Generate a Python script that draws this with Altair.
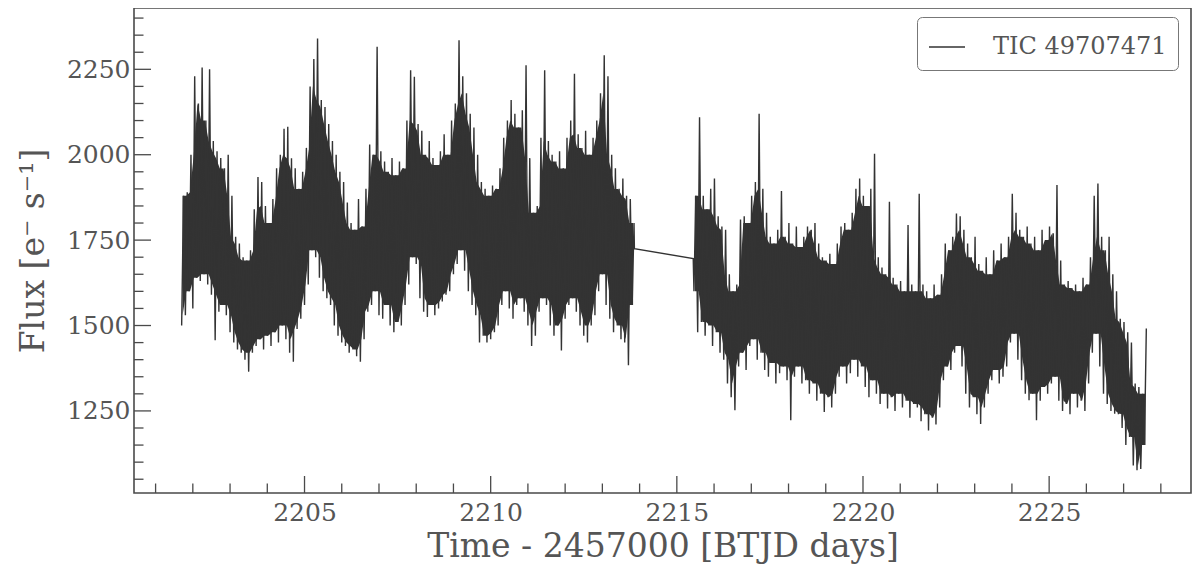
import altair as alt
import pandas as pd

# ---------------- data ----------------
label = "TIC 49707471"
bin_days = 0.1            # width of each read-off time bin (days)
seg1_start = 2201.70      # first orbit start (BTJD)
seg2_start = 2215.46      # second orbit start (BTJD)

# upper / lower edges of the flux band in each 0.1-day bin, orbit 1
seg1_hi = [1880, 1890, 2000, 2230, 2150, 2255, 2100, 2250, 2040, 2010,
           1990, 1960, 2000, 1880, 1760, 1740, 1700, 1690, 1720, 1840,
           1935, 1920, 1850, 1800, 1870, 1960, 2000, 2076, 2082, 1990,
           1960, 1900, 1950, 2020, 2200, 2280, 2340, 2160, 2140, 2090,
           2040, 2000, 1950, 1920, 1860, 1800, 1780, 1870, 1790, 1900,
           2030, 2000, 2316, 2010, 1980, 1950, 1990, 1940, 1980, 1960,
           2100, 2247, 2228, 2090, 2070, 2000, 2040, 1990, 1970, 2010,
           2060, 2000, 2100, 2150, 2335, 2230, 2180, 2120, 2080, 2000,
           1920, 1900, 1880, 1910, 1900, 1960, 2050, 2100, 2160, 2120,
           2080, 2130, 2262, 1990, 1830, 1850, 2050, 2247, 2040, 2000,
           1980, 2010, 1960, 2050, 2100, 2237, 2060, 2020, 2070, 2000,
           2050, 2100, 2180, 2291, 2230, 2000, 1960, 1900, 1930, 1880, 1870, 1800]
seg1_lo = [1500, 1530, 1600, 1550, 1640, 1630, 1650, 1620, 1590, 1457,
           1540, 1560, 1530, 1480, 1450, 1430, 1420, 1400, 1365, 1420,
           1440, 1460, 1430, 1470, 1440, 1480, 1450, 1500, 1460, 1420,
           1394, 1490, 1520, 1560, 1620, 1720, 1700, 1640, 1600, 1580,
           1560, 1500, 1470, 1450, 1440, 1420, 1430, 1410, 1394, 1460,
           1540, 1560, 1600, 1530, 1520, 1560, 1500, 1480, 1510, 1500,
           1560, 1620, 1700, 1680, 1580, 1540, 1525, 1560, 1530, 1550,
           1570, 1590, 1600, 1650, 1680, 1720, 1660, 1600, 1560, 1530,
           1450, 1470, 1450, 1460, 1480, 1500, 1560, 1600, 1550, 1520,
           1560, 1580, 1540, 1500, 1440, 1470, 1540, 1580, 1560, 1500,
           1470, 1500, 1427, 1520, 1560, 1580, 1540, 1500, 1470, 1450,
           1500, 1530, 1600, 1650, 1560, 1520, 1480, 1500, 1460, 1450, 1384, 1560]

# orbit 2
seg2_hi = [1880, 2110, 1880, 1840, 1900, 1930, 1820, 1790, 1780, 1650,
           1600, 1620, 1810, 1820, 1800, 1880, 1920, 2120, 1900, 1830,
           1760, 1740, 1780, 1894, 1760, 1800, 1740, 1790, 1730, 1760,
           1790, 1780, 1800, 1740, 1700, 1690, 1710, 1680, 1740, 1790,
           1800, 1780, 1830, 1900, 1930, 1880, 1850, 1900, 2003, 1700,
           1670, 1650, 1862, 1640, 1620, 1630, 1600, 1794, 1620, 1600,
           1886, 1620, 1600, 1580, 1620, 1590, 1650, 1740, 1720, 1760,
           1828, 1820, 1780, 1740, 1700, 1760, 1680, 1660, 1700, 1650,
           1720, 1690, 1740, 1700, 1760, 1886, 1830, 1780, 1760, 1790,
           1740, 1760, 1720, 1780, 1750, 1790, 1770, 1911, 1690, 1620,
           1630, 1610, 1620, 1600, 1640, 1620, 1700, 1880, 1916, 1760,
           1720, 1760, 1650, 1600, 1520, 1510, 1480, 1450, 1330, 1320, 1300, 1491]
seg2_lo = [1600, 1480, 1510, 1470, 1500, 1440, 1480, 1420, 1400, 1330,
           1290, 1252, 1380, 1420, 1370, 1440, 1460, 1400, 1420, 1370,
           1350, 1390, 1330, 1360, 1380, 1340, 1223, 1350, 1380, 1330,
           1340, 1300, 1330, 1280, 1300, 1247, 1290, 1260, 1300, 1350,
           1380, 1330, 1360, 1400, 1350, 1380, 1320, 1290, 1340, 1300,
           1270, 1300, 1257, 1290, 1250, 1300, 1260, 1280, 1230, 1270,
           1260, 1220, 1240, 1193, 1230, 1210, 1260, 1340, 1380, 1370,
           1420, 1440, 1380, 1300, 1260, 1290, 1240, 1212, 1260, 1300,
           1340, 1370, 1330, 1350, 1380, 1450, 1476, 1400, 1340, 1300,
           1281, 1300, 1223, 1280, 1320, 1300, 1330, 1350, 1280, 1250,
           1270, 1240, 1300, 1260, 1280, 1250, 1330, 1420, 1476, 1380,
           1300, 1270, 1250, 1242, 1240, 1200, 1150, 1174, 1090, 1076, 1080, 1150]

# the two points joined across the data gap
gap_time = [2213.86, 2215.44]
gap_flux = [1725, 1696]

x_major = [2205, 2210, 2215, 2220, 2225]
y_major = [1250, 1500, 1750, 2000, 2250]
x_minor = [t for t in range(2201, 2229) if t not in x_major]
y_minor = [v for v in range(1050, 2401, 50) if v not in y_major]

# ---------------- build tables ----------------
rows = []
bins = []


def add_segment(seg, start, hi, lo):
    for k, (h, l) in enumerate(zip(hi, lo)):
        t = start + k * bin_days
        rows.append((t, l))
        rows.append((t + bin_days / 2, h))
        bins.append((seg, t + bin_days / 4, h, l))


add_segment(1, seg1_start, seg1_hi, seg1_lo)
for t, f in zip(gap_time, gap_flux):
    rows.append((t, f))
add_segment(2, seg2_start, seg2_hi, seg2_lo)

df = pd.DataFrame(rows, columns=["time", "flux"])
df["i"] = range(len(df))
df["series"] = label
bins_df = pd.DataFrame(bins, columns=["seg", "time", "hi", "lo"])

# ---------------- chart ----------------
W, H = 1057, 485
FONT = "DejaVu Serif"
TXT = "#555555"
FRAME = "#4a4a4a"
BAND = "#333333"
xs = alt.Scale(domain=[2200.42, 2228.81], nice=False, zero=False)
ys = alt.Scale(domain=[1009.7, 2429.5], nice=False, zero=False)

x_axis = alt.Axis(values=x_major, format="d", ticks=False, domain=False, grid=False,
                  labelFont=FONT, labelFontSize=25, labelColor=TXT, labelPadding=7,
                  title="Time - 2457000 [BTJD days]", titleFont=FONT, titleFontSize=33,
                  titleFontWeight="normal", titleColor=TXT, titlePadding=5)
y_axis = alt.Axis(values=y_major, format="d", ticks=False, domain=False, grid=False,
                  labelFont=FONT, labelFontSize=25, labelColor=TXT, labelPadding=4,
                  title="Flux [e⁻ s⁻¹]", titleFont=FONT, titleFontSize=33,
                  titleFontWeight="normal", titleColor=TXT, titlePadding=16)

core = alt.Chart(bins_df).transform_window(
    core_hi="min(hi)", core_lo="max(lo)", frame=[-1, 1],
    groupby=["seg"], sort=[alt.SortField("time")],
).mark_area(color=BAND, clip=True).encode(
    x=alt.X("time:Q", scale=xs, axis=x_axis),
    y=alt.Y("core_lo:Q", scale=ys, axis=y_axis),
    y2="core_hi:Q",
    detail="seg:N",
)

line = alt.Chart(df).mark_line(strokeWidth=1.4, clip=True).encode(
    x=alt.X("time:Q", scale=xs, axis=x_axis),
    y=alt.Y("flux:Q", scale=ys, axis=y_axis),
    color=alt.Color("series:N", scale=alt.Scale(range=[BAND]),
                    legend=alt.Legend(title=None, orient="none", legendX=783, legendY=9,
                                      symbolType="stroke", symbolSize=1296, symbolStrokeWidth=1.3,
                                      labelFont=FONT, labelFontSize=24, labelColor=TXT,
                                      labelLimit=500, labelOffset=27, padding=11,
                                      strokeColor="#777777", cornerRadius=5, fillColor="white")),
    order=alt.Order("i:Q"),
)

xmaj = alt.Chart(pd.DataFrame({"t": x_major})).mark_rule(color=FRAME, strokeWidth=1.3).encode(
    x=alt.X("t:Q", scale=xs, axis=x_axis), y=alt.value(H), y2=alt.value(H - 17))
xmin = alt.Chart(pd.DataFrame({"t": x_minor})).mark_rule(color=FRAME, strokeWidth=1.3).encode(
    x=alt.X("t:Q", scale=xs, axis=x_axis), y=alt.value(H), y2=alt.value(H - 9.5))
ymaj = alt.Chart(pd.DataFrame({"v": y_major})).mark_rule(color=FRAME, strokeWidth=1.3).encode(
    y=alt.Y("v:Q", scale=ys, axis=y_axis), x=alt.value(0), x2=alt.value(17))
ymin = alt.Chart(pd.DataFrame({"v": y_minor})).mark_rule(color=FRAME, strokeWidth=1.3).encode(
    y=alt.Y("v:Q", scale=ys, axis=y_axis), x=alt.value(0), x2=alt.value(9.5))

chart = alt.layer(core, line, xmaj, xmin, ymaj, ymin).properties(
    width=W, height=H,
    padding={"left": 126, "right": 1, "top": 0, "bottom": 77},
    autosize=alt.AutoSizeParams(type="none"),
).configure(font=FONT).configure_view(stroke=FRAME, strokeWidth=1.6)

chart.save("out.html", embed_options={"renderer": "svg", "actions": False})
